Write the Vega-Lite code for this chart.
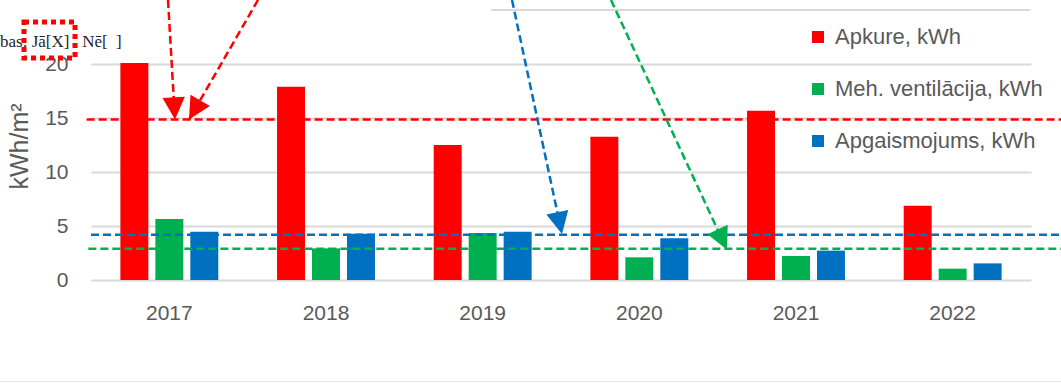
{
  "$schema": "https://vega.github.io/schema/vega-lite/v6.json",
  "width": 940,
  "height": 270,
  "autosize": {"type": "none"},
  "padding": {"left": 91, "top": 10, "right": 30, "bottom": 105},
  "background": "white",
  "config": {"font": "Liberation Sans", "view": {"stroke": null}},
  "datasets": {
    "bars": [
      {"year": "2017", "series": "Apkure, kWh", "value": 20.1},
      {"year": "2017", "series": "Meh. ventilācija, kWh", "value": 5.65},
      {"year": "2017", "series": "Apgaismojums, kWh", "value": 4.47},
      {"year": "2018", "series": "Apkure, kWh", "value": 17.9},
      {"year": "2018", "series": "Meh. ventilācija, kWh", "value": 2.93},
      {"year": "2018", "series": "Apgaismojums, kWh", "value": 4.29},
      {"year": "2019", "series": "Apkure, kWh", "value": 12.5},
      {"year": "2019", "series": "Meh. ventilācija, kWh", "value": 4.35},
      {"year": "2019", "series": "Apgaismojums, kWh", "value": 4.47},
      {"year": "2020", "series": "Apkure, kWh", "value": 13.27},
      {"year": "2020", "series": "Meh. ventilācija, kWh", "value": 2.1},
      {"year": "2020", "series": "Apgaismojums, kWh", "value": 3.86},
      {"year": "2021", "series": "Apkure, kWh", "value": 15.68},
      {"year": "2021", "series": "Meh. ventilācija, kWh", "value": 2.22},
      {"year": "2021", "series": "Apgaismojums, kWh", "value": 2.72},
      {"year": "2022", "series": "Apkure, kWh", "value": 6.88},
      {"year": "2022", "series": "Meh. ventilācija, kWh", "value": 1.05},
      {"year": "2022", "series": "Apgaismojums, kWh", "value": 1.54}
    ],
    "thresholds": [
      {"series": "Apkure, kWh", "value": 14.85, "xStart": 2016.472, "xEnd": 2022.7},
      {"series": "Apgaismojums, kWh", "value": 4.2, "xStart": 2016.5, "xEnd": 2022.7},
      {"series": "Meh. ventilācija, kWh", "value": 2.9, "xStart": 2016.483, "xEnd": 2022.7}
    ],
    "arrows": [
      {"id": "a1", "series": "Apkure, kWh", "x0": 2016.9915, "y0": 25.926, "x1": 2017.0362, "y1": 14.85},
      {"id": "a2", "series": "Apkure, kWh", "x0": 2017.566, "y0": 25.926, "x1": 2017.1255, "y1": 14.85},
      {"id": "a3", "series": "Apgaismojums, kWh", "x0": 2019.1872, "y0": 25.926, "x1": 2019.5064, "y1": 4.25},
      {"id": "a4", "series": "Meh. ventilācija, kWh", "x0": 2019.8191, "y0": 25.926, "x1": 2020.5596, "y1": 2.8}
    ],
    "gridTop": [{"xStart": 2019.0532, "xEnd": 2022.4936, "value": 25}],
    "border": [{"xStart": 2015.9, "xEnd": 2022.7, "value": -9.4}],
    "note": [{"label": "bas:\u00a0Jā[X]\u00a0\u00a0\u00a0Nē[\u00a0\u00a0]", "x": 2015.9191, "y": 22.04}],
    "box": [{"x0": 2016.0723, "x1": 2016.3979, "y0": 23.889, "y1": 20.556}]
  },
  "resolve": {"scale": {"x": "independent", "color": "independent"}},
  "layer": [
    {
      "data": {"name": "gridTop"},
      "mark": {"type": "rule", "color": "#d9d9d9", "strokeWidth": 2},
      "encoding": {
        "x": {"field": "xStart", "type": "quantitative", "scale": {"domain": [2016.5, 2022.5], "nice": false, "zero": false}, "axis": null},
        "x2": {"field": "xEnd"},
        "y": {"field": "value", "type": "quantitative", "scale": {"domain": [0, 25], "nice": false, "zero": true}}
      }
    },
    {
      "data": {"name": "border"},
      "mark": {"type": "rule", "color": "#e3e3e3", "strokeWidth": 1},
      "encoding": {
        "x": {"field": "xStart", "type": "quantitative", "scale": {"domain": [2016.5, 2022.5], "nice": false, "zero": false}, "axis": null},
        "x2": {"field": "xEnd"},
        "y": {"field": "value", "type": "quantitative", "scale": {"domain": [0, 25], "nice": false, "zero": true}}
      }
    },
    {
      "data": {"name": "bars"},
      "mark": {"type": "bar"},
      "encoding": {
        "x": {
          "field": "year", "type": "nominal",
          "scale": {"paddingInner": 0.375, "paddingOuter": 0.1875},
          "axis": {"title": null, "domain": false, "ticks": false, "grid": false, "labelAngle": 0, "labelFontSize": 21, "labelColor": "#595959", "labelPadding": 22}
        },
        "xOffset": {
          "field": "series", "type": "nominal",
          "sort": ["Apkure, kWh", "Meh. ventilācija, kWh", "Apgaismojums, kWh"],
          "scale": {"paddingInner": 0.2, "paddingOuter": 0}
        },
        "y": {
          "field": "value", "type": "quantitative",
          "scale": {"domain": [0, 25], "nice": false, "zero": true},
          "axis": {
            "values": [0, 5, 10, 15, 20], "grid": true, "gridColor": "#d9d9d9", "gridWidth": 2,
            "domain": false, "ticks": false, "labelFontSize": 21, "labelColor": "#595959", "labelPadding": 23,
            "title": "kWh/m²", "titleFontSize": 25, "titleColor": "#595959", "titleFontWeight": "normal",
            "titleX": -64, "titleY": 136, "titleAngle": 270, "titleBaseline": "alphabetic", "titleAlign": "center"
          }
        },
        "color": {
          "field": "series", "type": "nominal",
          "scale": {"domain": ["Apkure, kWh", "Meh. ventilācija, kWh", "Apgaismojums, kWh"], "range": ["#ff0000", "#00b050", "#0070c0"]},
          "legend": {
            "orient": "none", "legendX": 716, "legendY": 16, "title": null,
            "symbolType": "square", "symbolSize": 144, "symbolStrokeWidth": 0, "symbolOpacity": 1,
            "labelFontSize": 22, "labelColor": "#595959", "labelOffset": 6, "labelLimit": 400, "rowPadding": 30, "padding": 0
          }
        }
      }
    },
    {
      "data": {"name": "thresholds"},
      "mark": {"type": "rule", "strokeWidth": 2.5, "strokeDash": [8, 4]},
      "encoding": {
        "x": {"field": "xStart", "type": "quantitative", "scale": {"domain": [2016.5, 2022.5], "nice": false, "zero": false}, "axis": null},
        "x2": {"field": "xEnd"},
        "y": {"field": "value", "type": "quantitative", "scale": {"domain": [0, 25], "nice": false, "zero": true}},
        "color": {
          "field": "series", "type": "nominal",
          "scale": {"domain": ["Apkure, kWh", "Meh. ventilācija, kWh", "Apgaismojums, kWh"], "range": ["#ff0000", "#00b050", "#0070c0"]},
          "legend": null
        }
      }
    },
    {
      "data": {"name": "arrows"},
      "mark": {"type": "rule", "strokeWidth": 2.5, "strokeDash": [8, 4]},
      "encoding": {
        "x": {"field": "x0", "type": "quantitative", "scale": {"domain": [2016.5, 2022.5], "nice": false, "zero": false}, "axis": null},
        "x2": {"field": "x1"},
        "y": {"field": "y0", "type": "quantitative", "scale": {"domain": [0, 25], "nice": false, "zero": true}},
        "y2": {"field": "y1"},
        "color": {
          "field": "series", "type": "nominal",
          "scale": {"domain": ["Apkure, kWh", "Meh. ventilācija, kWh", "Apgaismojums, kWh"], "range": ["#ff0000", "#00b050", "#0070c0"]},
          "legend": null
        }
      }
    },
    {
      "data": {"name": "arrows"},
      "transform": [{"filter": "datum.id === 'a1'"}],
      "mark": {"type": "point", "shape": "M0,0L-0.5,-1L0.5,-1Z", "size": 2000, "filled": true, "opacity": 1, "color": "#ff0000", "angle": 356.6},
      "encoding": {
        "x": {"field": "x1", "type": "quantitative", "scale": {"domain": [2016.5, 2022.5], "nice": false, "zero": false}, "axis": null},
        "y": {"field": "y1", "type": "quantitative", "scale": {"domain": [0, 25], "nice": false, "zero": true}}
      }
    },
    {
      "data": {"name": "arrows"},
      "transform": [{"filter": "datum.id === 'a2'"}],
      "mark": {"type": "point", "shape": "M0,0L-0.5,-1L0.5,-1Z", "size": 2000, "filled": true, "opacity": 1, "color": "#ff0000", "angle": 30.1},
      "encoding": {
        "x": {"field": "x1", "type": "quantitative", "scale": {"domain": [2016.5, 2022.5], "nice": false, "zero": false}, "axis": null},
        "y": {"field": "y1", "type": "quantitative", "scale": {"domain": [0, 25], "nice": false, "zero": true}}
      }
    },
    {
      "data": {"name": "arrows"},
      "transform": [{"filter": "datum.id === 'a3'"}],
      "mark": {"type": "point", "shape": "M0,0L-0.5,-1L0.5,-1Z", "size": 2000, "filled": true, "opacity": 1, "color": "#0070c0", "angle": 347.9},
      "encoding": {
        "x": {"field": "x1", "type": "quantitative", "scale": {"domain": [2016.5, 2022.5], "nice": false, "zero": false}, "axis": null},
        "y": {"field": "y1", "type": "quantitative", "scale": {"domain": [0, 25], "nice": false, "zero": true}}
      }
    },
    {
      "data": {"name": "arrows"},
      "transform": [{"filter": "datum.id === 'a4'"}],
      "mark": {"type": "point", "shape": "M0,0L-0.5,-1L0.5,-1Z", "size": 2000, "filled": true, "opacity": 1, "color": "#00b050", "angle": 335.1},
      "encoding": {
        "x": {"field": "x1", "type": "quantitative", "scale": {"domain": [2016.5, 2022.5], "nice": false, "zero": false}, "axis": null},
        "y": {"field": "y1", "type": "quantitative", "scale": {"domain": [0, 25], "nice": false, "zero": true}}
      }
    },
    {
      "data": {"name": "note"},
      "mark": {"type": "text", "align": "left", "baseline": "middle", "font": "Liberation Serif", "fontSize": 17, "color": "#1f1f1f"},
      "encoding": {
        "x": {"field": "x", "type": "quantitative", "scale": {"domain": [2016.5, 2022.5], "nice": false, "zero": false}, "axis": null},
        "y": {"field": "y", "type": "quantitative", "scale": {"domain": [0, 25], "nice": false, "zero": true}},
        "text": {"field": "label"}
      }
    },
    {
      "data": {"name": "box"},
      "mark": {"type": "rect", "fillOpacity": 0, "stroke": "#ff0000", "strokeWidth": 5, "strokeDash": [5, 4]},
      "encoding": {
        "x": {"field": "x0", "type": "quantitative", "scale": {"domain": [2016.5, 2022.5], "nice": false, "zero": false}, "axis": null},
        "x2": {"field": "x1"},
        "y": {"field": "y0", "type": "quantitative", "scale": {"domain": [0, 25], "nice": false, "zero": true}},
        "y2": {"field": "y1"}
      }
    }
  ]
}
